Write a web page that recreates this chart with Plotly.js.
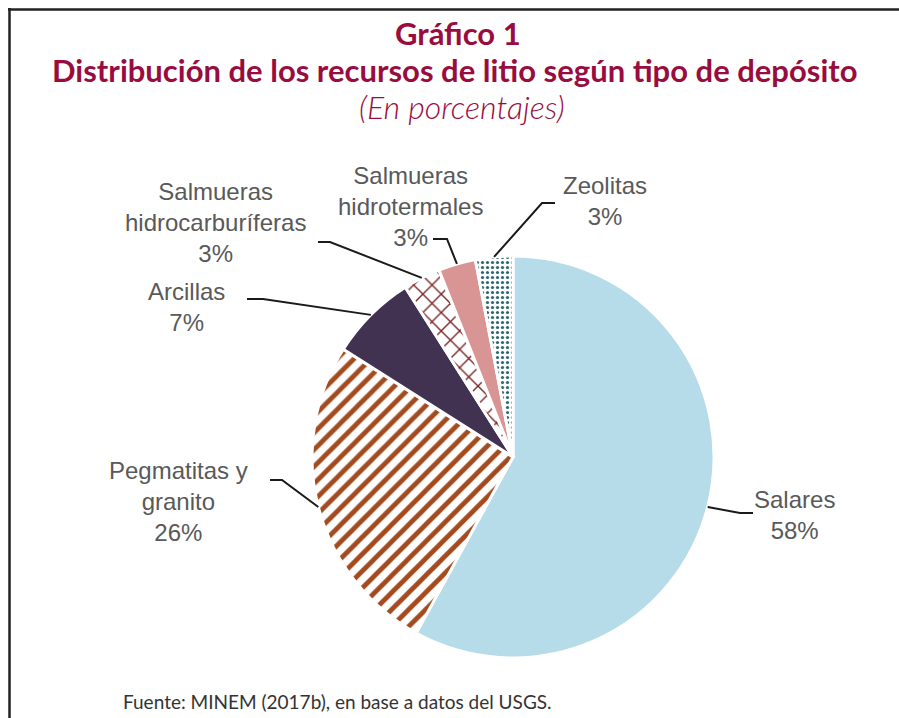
<!DOCTYPE html>
<html>
<head>
<meta charset="utf-8">
<script src="https://cdn.plot.ly/plotly-3.0.1.min.js"></script>
<style>html,body{margin:0;padding:0;background:#fff;}#chart{width:899px;height:718px;}</style>
</head>
<body>
<div id="chart"></div>
<script>
// ---- data ----
var categories = ["Salares", "Pegmatitas y granito", "Arcillas", "Salmueras hidrocarburíferas", "Salmueras hidrotermales", "Zeolitas"];
var labelLines = ["Salares", "Pegmatitas y<br>granito", "Arcillas", "Salmueras<br>hidrocarburíferas", "Salmueras<br>hidrotermales", "Zeolitas"];
var values = [58, 26, 7, 3, 3, 3];
var titleText = "Gráfico 1";
var subtitleText = "Distribución de los recursos de litio según tipo de depósito";
var unitText = "(En porcentajes)";
var sourceText = "Fuente: MINEM (2017b), en base a datos del USGS.";

// ---- style ----
var W = 899, H = 718;
var CX = 513, CY = 457, R = 201;
var sliceColors = ["#b5dce8", "#ffffff", "#413252", "#ffffff", "#d99594", "#ffffff"];
var patShapes = ["", "/", "", "x", "", "."];
var patFg = ["#b5dce8", "#a34a1f", "#413252", "#7a2526", "#d99594", "#2c6870"];
var patSize = [8, 12, 8, 13, 8, 5];
var patSolid = [0.3, 0.4, 0.3, 0.2, 0.3, 0.32];
var labelPos = [[794, 515], [178, 501], [186, 307], [215, 223], [410, 207], [605, 201]];
var leaderPts = [[[753, 513], [740, 513]], [[270, 480], [282, 480]], [[247, 299], [263, 299]],
                 [[318, 242], [330, 242]], [[433, 239], [447, 239]], [[555, 203], [542, 203]]];

function px(x) { return x / W; }
function py(y) { return 1 - y / H; }

var trace = {
  type: "pie",
  labels: categories,
  values: values,
  sort: false,
  direction: "clockwise",
  rotation: 0,
  textinfo: "none",
  hoverinfo: "label+percent",
  domain: { x: [px(CX - R), px(CX + R)], y: [py(CY + R), py(CY - R)] },
  marker: {
    colors: sliceColors,
    line: { color: "#ffffff", width: 3 },
    pattern: { shape: patShapes, fgcolor: patFg, bgcolor: sliceColors, size: patSize, solidity: patSolid }
  },
  showlegend: false
};

var total = values.reduce(function (a, b) { return a + b; }, 0);
var annotations = [];
var shapes = [];
var cum = 0;
for (var i = 0; i < values.length; i++) {
  var mid = (cum + values[i] / 2) / total * 2 * Math.PI;
  cum += values[i];
  var ax = CX + R * Math.sin(mid), ay = CY - R * Math.cos(mid);
  var p0 = leaderPts[i][0], p1 = leaderPts[i][1];
  shapes.push({
    type: "path", xref: "paper", yref: "paper",
    path: "M" + px(p0[0]) + "," + py(p0[1]) + " L" + px(p1[0]) + "," + py(p1[1]) + " L" + px(ax) + "," + py(ay),
    line: { color: "#1a1a1a", width: 2 }
  });
  annotations.push({
    xref: "paper", yref: "paper", x: px(labelPos[i][0]), y: py(labelPos[i][1]),
    xanchor: "center", yanchor: "middle", showarrow: false, align: "center",
    text: labelLines[i] + "<br>" + values[i] + "%",
    font: { family: "Liberation Sans, Arial, sans-serif", size: 24, color: "#595959" }
  });
}
// titles
annotations.push({ xref: "paper", yref: "paper", x: px(458), y: py(33), xanchor: "center", yanchor: "middle", showarrow: false,
  text: "<b>" + titleText + "</b>", font: { family: "Lato, sans-serif", size: 31, color: "#990c3e" } });
annotations.push({ xref: "paper", yref: "paper", x: px(455), y: py(70), xanchor: "center", yanchor: "middle", showarrow: false,
  text: "<b>" + subtitleText + "</b>", font: { family: "Lato, sans-serif", size: 31, color: "#990c3e" } });
annotations.push({ xref: "paper", yref: "paper", x: px(462), y: py(107), xanchor: "center", yanchor: "middle", showarrow: false,
  text: "<i>" + unitText + "</i>", font: { family: "Lato, sans-serif", size: 32, weight: 300, color: "#990c3e" } });
annotations.push({ xref: "paper", yref: "paper", x: px(121), y: py(701), xanchor: "left", yanchor: "middle", showarrow: false,
  text: sourceText, font: { family: "Lato, sans-serif", size: 19, color: "#333333" } });

// frame
shapes.push({ type: "line", xref: "paper", yref: "paper", x0: px(8), y0: py(9.5), x1: px(899), y1: py(9.5), line: { color: "#222222", width: 2.5 } });
shapes.push({ type: "line", xref: "paper", yref: "paper", x0: px(9.5), y0: py(8), x1: px(9.5), y1: py(718), line: { color: "#222222", width: 2.5 } });

var layout = {
  width: W, height: H,
  margin: { l: 0, r: 0, t: 0, b: 0 },
  paper_bgcolor: "#ffffff",
  annotations: annotations,
  shapes: shapes,
  showlegend: false
};

Plotly.newPlot("chart", [trace], layout, { displayModeBar: false, staticPlot: true });
</script>
</body>
</html>
